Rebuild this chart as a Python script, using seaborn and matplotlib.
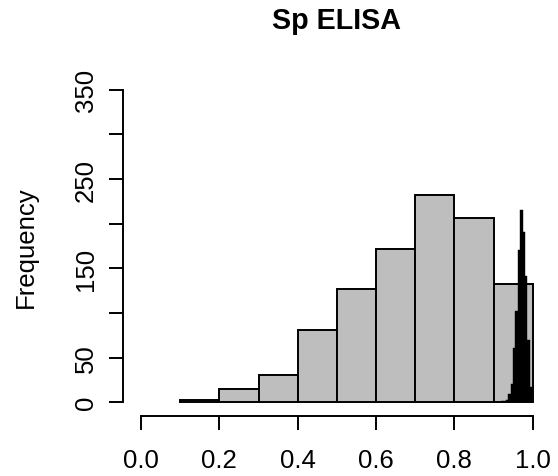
import numpy as np
import pandas as pd
import matplotlib
matplotlib.use("Agg")
import matplotlib.pyplot as plt
import seaborn as sns

# Gray histogram (bin width 0.1)
gray_edges = [0.1, 0.2, 0.3, 0.4, 0.5, 0.6, 0.7, 0.8, 0.9, 1.0]
gray_counts = [3, 15, 31, 81, 127, 172, 232, 206, 132]

# Black narrow histogram near 1.0
black_edges = [0.920, 0.926, 0.932, 0.938, 0.944, 0.950, 0.956, 0.962,
               0.968, 0.974, 0.980, 0.986, 0.992, 0.998]
black_counts = [1, 1, 2, 9, 21, 61, 102, 170, 215, 191, 141, 70, 17]

x_ticks = [0.0, 0.2, 0.4, 0.6, 0.8, 1.0]
x_tick_labels = ["0.0", "0.2", "0.4", "0.6", "0.8", "1.0"]
y_ticks = [0, 50, 100, 150, 200, 250, 300, 350]
y_tick_labels = ["0", "50", "", "150", "", "250", "", "350"]

title = "Sp ELISA"
ylabel = "Frequency"

sns.set_style("white")
plt.rcParams['font.family'] = ['Liberation Sans', 'DejaVu Sans']
plt.rcParams['text.color'] = 'black'

W, H = 558, 477
fig = plt.figure(figsize=(W / 100, H / 100), dpi=100)
left, right, bottom, top = 123, 550.7, 417.3, 76.7
ax = fig.add_axes([left / W, 1 - bottom / H, (right - left) / W, (bottom - top) / H])

gdf = pd.DataFrame({"x": [(a + b) / 2 for a, b in zip(gray_edges[:-1], gray_edges[1:])],
                    "w": gray_counts})
bdf = pd.DataFrame({"x": [(a + b) / 2 for a, b in zip(black_edges[:-1], black_edges[1:])],
                    "w": black_counts})

sns.histplot(data=gdf, x="x", weights="w", bins=gray_edges, ax=ax,
             color="#BEBEBE", edgecolor="black", linewidth=1.4, alpha=1)
sns.histplot(data=bdf, x="x", weights="w", bins=black_edges, ax=ax,
             color="black", edgecolor="black", linewidth=0.3, alpha=1)

ax.set_xlim(-0.046, 1.046)
ax.set_ylim(-15.7, 365.7)

for s in ["top", "right"]:
    ax.spines[s].set_visible(False)
for s in ["left", "bottom"]:
    ax.spines[s].set_color("black")
    ax.spines[s].set_linewidth(1.4)
ax.spines["left"].set_bounds(0, 350)
ax.spines["bottom"].set_bounds(0, 1)

ax.set_xticks(x_ticks)
ax.set_xticklabels(x_tick_labels)
ax.set_yticks(y_ticks)
ax.set_yticklabels(y_tick_labels, rotation=90, va="center")
ax.tick_params(axis="both", direction="out", length=10, width=1.4, color="black",
               labelsize=18.5, labelcolor="black", bottom=True, left=True)
ax.tick_params(axis="x", pad=13)
ax.tick_params(axis="y", pad=8)

ax.set_xlabel("")
ax.set_ylabel(ylabel, fontsize=18.5, color="black")
ax.yaxis.set_label_coords((38 - left) / (right - left), 0.5)
ax.grid(False)

fig.text((left + right) / 2 / W, 1 - 29 / H, title, ha="center", va="baseline",
         fontsize=20.7, fontweight="bold", color="black")

fig.savefig("out.png", dpi=100)
